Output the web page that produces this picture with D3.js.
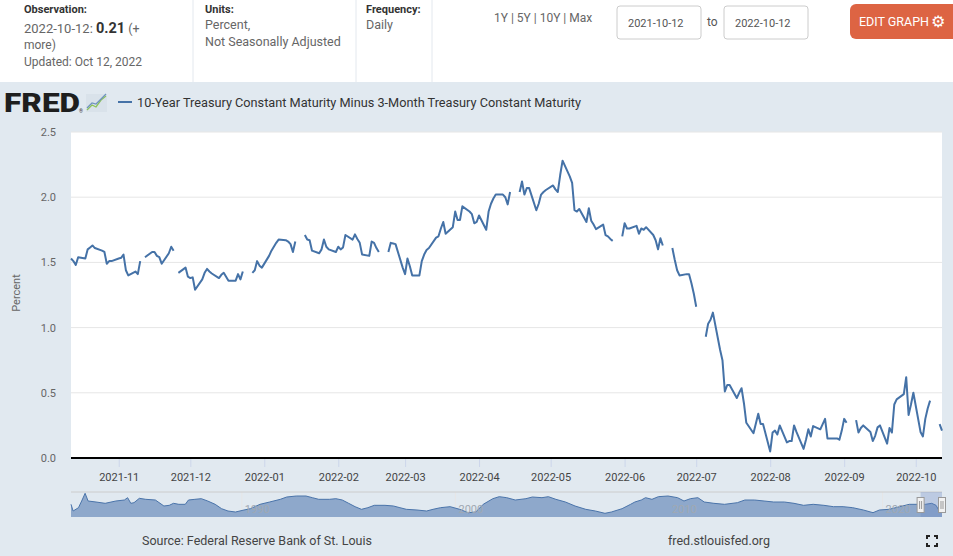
<!DOCTYPE html>
<html>
<head>
<meta charset="utf-8">
<script src="https://cdn.jsdelivr.net/npm/d3@7"></script>
<style>
  body { margin: 0; background: #fff; }
  svg text { font-family: Roboto, "Open Sans", "DejaVu Sans", sans-serif; }
</style>
</head>
<body>
<div id="chart"></div>
<script>
// T10Y3M, daily values per month (null = market holiday)
const oct21 = [1.53, 1.51, 1.48, 1.54, 1.53, 1.60, 1.615, 1.63, 1.61, 1.59, 1.58, 1.49, 1.51, 1.51];
const nov21 = [1.53, 1.535, 1.56, 1.44, 1.40, 1.43, 1.41, 1.51, null, 1.54, 1.58, 1.58, 1.55, 1.54, 1.49, 1.57, 1.62, 1.59, null, 1.42, 1.46, 1.39];
const dec21 = [1.38, 1.385, 1.29, 1.37, 1.42, 1.45, 1.43, 1.415, 1.38, 1.405, 1.42, 1.39, 1.36, 1.36, 1.41, 1.37, 1.43, null, 1.42, 1.44, 1.51, 1.475, 1.46];
const jan22 = [1.55, 1.59, 1.62, 1.65, 1.675, 1.67, 1.66, 1.64, 1.58, 1.66, null, 1.71, 1.675, 1.67, 1.59, 1.57, 1.60, 1.675, 1.62, 1.60, 1.58];
const feb22 = [1.62, 1.60, 1.615, 1.71, 1.675, 1.715, 1.68, 1.65, 1.56, 1.55, 1.66, 1.65, 1.61, 1.58, null, 1.58, 1.65, 1.645, 1.64, 1.46];
const mar22 = [1.41, 1.53, 1.47, 1.40, 1.40, 1.51, 1.56, 1.595, 1.61, 1.69, 1.70, 1.76, 1.81, 1.72, 1.77, 1.89, 1.825, 1.825, 1.93, 1.89, 1.87, 1.80, 1.81];
const apr22 = [1.86, 1.75, 1.89, 1.95, 1.99, 2.02, 2.02, 2.00, 1.945, 2.04, null, 2.04, 2.12, 2.02, 2.07, 2.07, 1.90, 1.95, 2.02, 2.04, 2.055];
const may22 = [2.09, 2.06, 2.04, 2.17, 2.28, 2.16, 2.11, 1.90, 1.89, 1.91, 1.81, 1.915, 1.82, 1.79, 1.755, 1.79, 1.71, 1.70, 1.68, 1.665, null, 1.70];
const jun22 = [1.80, 1.76, 1.76, 1.78, 1.72, 1.76, 1.75, 1.77, 1.71, 1.67, 1.60, 1.685, 1.63, null, 1.61, 1.52, 1.44, 1.40, 1.41, 1.41, 1.34, 1.26];
const jul22 = [1.16, null, 0.93, 1.03, 1.06, 1.115, 0.83, 0.75, 0.51, 0.56, 0.56, 0.46, 0.50, 0.535, 0.42, 0.27, 0.19, 0.265, 0.34, 0.26, 0.26];
const aug22 = [0.05, 0.195, 0.21, 0.18, 0.25, 0.12, 0.13, 0.13, 0.25, 0.20, 0.07, 0.14, 0.22, 0.165, 0.245, 0.22, 0.26, 0.30, 0.15, 0.15, 0.15, 0.14, 0.21];
const sep22 = [0.30, 0.27, null, 0.29, 0.195, 0.23, 0.25, 0.20, 0.13, 0.17, 0.235, 0.25, 0.11, 0.23, 0.195, 0.41, 0.45, 0.49, 0.62, 0.33, 0.41, 0.50];
const oct22 = [0.20, 0.165, 0.30, 0.38, 0.44, null, 0.26, 0.21];

// first business day each array starts on
const monthStarts = ["2021-10-12", "2021-11-01", "2021-12-01", "2022-01-03", "2022-02-01", "2022-03-01",
  "2022-04-01", "2022-05-02", "2022-06-01", "2022-07-01", "2022-08-01", "2022-09-01", "2022-10-03"];
const monthValues = [oct21, nov21, dec21, jan22, feb22, mar22, apr22, may22, jun22, jul22, aug22, sep22, oct22];

const yTicks = [0, 0.5, 1.0, 1.5, 2.0, 2.5];

// navigator: whole history, sampled
const navYears = [1982.0, 1982.1, 1982.35, 1982.5, 1982.66, 1982.8, 1983.17, 1983.6, 1984.1, 1984.5, 1984.65, 1984.8, 1984.95,
  1985.2, 1985.5, 1985.95, 1986.35, 1986.6, 1986.8, 1987.05, 1987.35, 1987.5, 1987.8, 1988.1, 1988.4, 1988.75, 1989.05,
  1989.35, 1989.7, 1990.1, 1990.4, 1990.85, 1991.3, 1991.8, 1992.1, 1992.55, 1993.0, 1993.3, 1993.6, 1994.1, 1994.4, 1994.7,
  1995.0, 1995.3, 1995.6, 1995.9, 1996.2, 1996.7, 1997.1, 1997.4, 1997.7, 1998.2, 1998.65, 1998.95, 1999.3, 1999.75, 2000.2,
  2000.6, 2000.95, 2001.3, 2001.75, 2002.05, 2002.4, 2002.8, 2003.3, 2003.6, 2004.05, 2004.35, 2004.7, 2005.15, 2005.6,
  2006.1, 2006.55, 2007.0, 2007.3, 2007.8, 2008.2, 2008.4, 2008.7, 2008.9, 2009.2, 2009.5, 2009.95, 2010.4, 2010.7, 2011.0,
  2011.35, 2011.65, 2012.1, 2012.6, 2013.2, 2013.55, 2014.0, 2014.45, 2014.9, 2015.4, 2015.85, 2016.3, 2016.75, 2017.25,
  2017.7, 2018.15, 2018.6, 2019.1, 2019.55, 2019.85, 2020.3, 2020.8, 2021.25, 2021.7, 2022.0, 2022.3, 2022.5, 2022.65, 2022.78];
const navValues = [1.79, 0.32, 1.05, 2.52, 4.21, 2.52, 2.30, 2.01, 2.52, 2.74, 3.25, 2.01, 2.15,
  3.11, 2.89, 2.74, 1.42, 1.57, 2.01, 1.79, 1.79, 2.74, 2.89, 3.03, 2.52, 1.79, 0.83,
  0.32, 0.10, 0.54, 0.83, 1.79, 2.30, 2.89, 3.40, 3.62, 3.62, 3.25, 2.89, 2.89, 3.03, 2.74,
  2.01, 1.27, 0.69, 1.05, 1.57, 1.57, 1.42, 1.05, 0.69, 0.54, 0.32, 0.69, 1.05, 1.27, 0.69,
  -0.05, 0.10, 1.79, 3.03, 3.47, 3.25, 2.74, 3.03, 3.40, 3.25, 3.47, 2.89, 2.30, 1.42,
  0.69, 0.32, -0.19, 0.10, 0.83, 1.79, 2.30, 2.74, 3.25, 2.89, 3.47, 3.62, 3.25, 2.52, 3.03,
  3.25, 2.30, 2.01, 1.79, 2.15, 2.74, 2.74, 2.52, 2.30, 2.30, 2.01, 1.57, 1.79, 1.57,
  1.27, 1.27, 1.05, 0.54, -0.05, 0.54, 0.69, 1.27, 1.79, 1.79, 1.79, 2.01, 1.57, 0.32, 0.21];
const navDecades = [1990, 2000, 2010, 2020];

// ---- build daily series (weekdays only)
const parse = d3.utcParse("%Y-%m-%d");
const series = [];
monthStarts.forEach((s, i) => {
  let day = parse(s);
  monthValues[i].forEach(v => {
    while (day.getUTCDay() === 0 || day.getUTCDay() === 6) day = d3.utcDay.offset(day, 1);
    series.push({ date: day, v: v });
    day = d3.utcDay.offset(day, 1);
  });
});

const W = 953, H = 556;
const svg = d3.select("#chart").append("svg").attr("width", W).attr("height", H);

// backgrounds
svg.append("rect").attr("width", W).attr("height", H).attr("fill", "#e1e9f0");
svg.append("rect").attr("width", W).attr("height", 82).attr("fill", "#fff");

// ---- header
const hdr = svg.append("g");
[193, 356, 432].forEach(x => hdr.append("line").attr("x1", x).attr("x2", x).attr("y1", 0).attr("y2", 82)
  .attr("stroke", "#e3e8ee"));
function txt(x, y, s, size, color, weight) {
  return hdr.append("text").attr("x", x).attr("y", y).attr("font-size", size)
    .attr("fill", color).attr("font-weight", weight || "normal").text(s);
}
txt(24, 13, "Observation:", 11, "#333", "bold");
const obs = txt(24, 33, "2022-10-12: ", 13, "#666");
obs.append("tspan").attr("font-weight", "bold").attr("font-size", 14.5).attr("fill", "#333").text("0.21");
obs.append("tspan").attr("font-size", 12.5).text(" (+");
txt(24, 49, "more)", 12, "#666");
txt(24, 66, "Updated: Oct 12, 2022", 12, "#666");
txt(205, 13, "Units:", 11, "#333", "bold");
txt(205, 29, "Percent,", 12.5, "#666");
txt(205, 46, "Not Seasonally Adjusted", 12.5, "#666");
txt(366, 13, "Frequency:", 11, "#333", "bold");
txt(366, 29, "Daily", 12.5, "#666");
txt(494, 22, "1Y | 5Y | 10Y | Max", 12, "#666");
[617, 724].forEach((x, i) => {
  hdr.append("rect").attr("x", x).attr("y", 6).attr("width", 84).attr("height", 33).attr("rx", 3)
    .attr("fill", "#fff").attr("stroke", "#ccc");
  txt(x + 11, 27, i ? "2022-10-12" : "2021-10-12", 11, "#555");
});
txt(707, 26, "to", 12, "#555");
hdr.append("rect").attr("x", 850).attr("y", 4).attr("width", 110).attr("height", 35).attr("rx", 6)
  .attr("fill", "#dd6443");
txt(859, 26, "EDIT GRAPH", 12.5, "#fff");
txt(931, 27, "\u2699", 16, "#fff", "bold");

// ---- legend / logo
const leg = svg.append("g");
leg.append("text").attr("x", 4).attr("y", 112).attr("font-size", 25).attr("font-weight", 900)
  .attr("fill", "#1e1e1e").attr("textLength", 76).attr("lengthAdjust", "spacingAndGlyphs").text("FRED");
leg.append("text").attr("x", 79).attr("y", 113).attr("font-size", 5).attr("fill", "#333").text("\u00ae");
leg.append("rect").attr("x", 86).attr("y", 94).attr("width", 21).attr("height", 18).attr("fill", "#d9e2ea");
leg.append("polyline").attr("points", "87,110 92,105 96,107 101,100 106,96").attr("fill", "none")
  .attr("stroke", "#8cc35a").attr("stroke-width", 1.3);
leg.append("polyline").attr("points", "87,108 92,103 96,104 101,99 106,94").attr("fill", "none")
  .attr("stroke", "#6f93c0").attr("stroke-width", 1.2);
leg.append("line").attr("x1", 118).attr("x2", 132).attr("y1", 102).attr("y2", 102)
  .attr("stroke", "#4572a7").attr("stroke-width", 2);
leg.append("text").attr("x", 137).attr("y", 107).attr("font-size", 12).attr("fill", "#333")
  .attr("textLength", 444).attr("lengthAdjust", "spacingAndGlyphs")
  .text("10-Year Treasury Constant Maturity Minus 3-Month Treasury Constant Maturity");

// ---- main plot
const plot = { left: 71, right: 942, top: 132, bottom: 458 };
const x = d3.scaleUtc().domain([parse("2021-10-12"), parse("2022-10-12")]).range([plot.left, plot.right]);
const y = d3.scaleLinear().domain([0, 2.5]).range([plot.bottom, plot.top]);

svg.append("rect").attr("x", plot.left).attr("y", plot.top)
  .attr("width", plot.right - plot.left).attr("height", plot.bottom - plot.top).attr("fill", "#fff");

// gridlines
svg.append("g").selectAll("line").data(yTicks.filter(t => t > 0)).join("line")
  .attr("x1", plot.left).attr("x2", plot.right)
  .attr("y1", d => y(d)).attr("y2", d => y(d)).attr("stroke", "#e6e6e6");

// y axis
const yAxis = svg.append("g").attr("transform", `translate(${plot.left},0)`)
  .call(d3.axisLeft(y).tickValues(yTicks).tickFormat(d3.format(".1f")).tickSize(0).tickPadding(15));
yAxis.select(".domain").remove();
yAxis.selectAll("text").attr("font-size", 11).attr("fill", "#666")
  .attr("font-family", "Roboto, 'Open Sans', sans-serif");
svg.append("text").attr("transform", `translate(20,${(plot.top + plot.bottom) / 2 - 2}) rotate(-90)`)
  .attr("text-anchor", "middle").attr("font-size", 11).attr("fill", "#666").text("Percent");

// x axis
const months = d3.utcMonth.range(parse("2021-11-01"), parse("2022-10-02"));
const xAxis = svg.append("g").attr("transform", `translate(0,${plot.bottom + 1})`)
  .call(d3.axisBottom(x).tickValues(months).tickFormat(d3.utcFormat("%Y-%m")).tickSize(8).tickPadding(6));
xAxis.select(".domain").remove();
xAxis.selectAll(".tick line").attr("stroke", "#ccd6eb");
xAxis.selectAll("text").attr("font-size", 11).attr("fill", "#444")
  .attr("font-family", "Roboto, 'Open Sans', sans-serif");
svg.append("line").attr("x1", plot.left).attr("x2", plot.right)
  .attr("y1", plot.bottom).attr("y2", plot.bottom).attr("stroke", "#000").attr("stroke-width", 2);

// series
const line = d3.line().defined(d => d.v !== null).x(d => x(d.date)).y(d => y(d.v));
svg.append("path").datum(series).attr("d", line).attr("fill", "none")
  .attr("stroke", "#4572a7").attr("stroke-width", 2).attr("stroke-linejoin", "round");

// ---- navigator
const nav = { left: 71, right: 942, top: 492, bottom: 517 };
const nx = d3.scaleLinear().domain([1982.0, 2022.78]).range([nav.left, nav.right]);
const ny = d3.scaleLinear().domain([-1, 4.5]).range([nav.bottom, nav.top]);
const navData = navYears.map((t, i) => ({ t: t, v: navValues[i] }));

svg.append("g").selectAll("line").data(navDecades).join("line")
  .attr("x1", d => nx(d)).attr("x2", d => nx(d)).attr("y1", nav.top).attr("y2", nav.bottom)
  .attr("stroke", "#e6e6e6");
svg.append("line").attr("x1", nav.left).attr("x2", nav.right).attr("y1", nav.top).attr("y2", nav.top)
  .attr("stroke", "#cccccc");
svg.append("path").datum(navData)
  .attr("d", d3.area().x(d => nx(d.t)).y0(nav.bottom).y1(d => ny(d.v)))
  .attr("fill", "#8ea8cb");
svg.append("path").datum(navData)
  .attr("d", d3.line().x(d => nx(d.t)).y(d => ny(d.v)))
  .attr("fill", "none").attr("stroke", "#4a74aa").attr("stroke-width", 1);
svg.append("g").selectAll("text").data(navDecades).join("text")
  .attr("x", d => nx(d) + 3).attr("y", 513).attr("font-size", 11).attr("fill", "#a0a8b2")
  .text(d => d);

// selected range
const selStart = nx(2021 + 284 / 365);
svg.append("rect").attr("x", selStart).attr("y", nav.top).attr("width", nav.right - selStart)
  .attr("height", nav.bottom - nav.top).attr("fill", "rgba(102,133,194,0.3)");
[selStart, nav.right].forEach(hx => {
  const g = svg.append("g").attr("transform", `translate(${hx},505)`);
  g.append("rect").attr("x", -3.5).attr("y", -7.5).attr("width", 7).attr("height", 15)
    .attr("fill", "#f2f2f2").attr("stroke", "#999");
  g.append("line").attr("x1", -1).attr("x2", -1).attr("y1", -4).attr("y2", 4).attr("stroke", "#999");
  g.append("line").attr("x1", 1).attr("x2", 1).attr("y1", -4).attr("y2", 4).attr("stroke", "#999");
});

// ---- footer
svg.append("text").attr("x", 142).attr("y", 545).attr("font-size", 12.5).attr("fill", "#444")
  .text("Source: Federal Reserve Bank of St. Louis");
svg.append("text").attr("x", 668).attr("y", 545).attr("font-size", 12.5).attr("fill", "#444")
  .text("fred.stlouisfed.org");
const fs = svg.append("g").attr("fill", "none").attr("stroke", "#222").attr("stroke-width", 2);
[["927,539 927,536 930,536"], ["934,536 937,536 937,539"], ["927,543 927,546 930,546"], ["934,546 937,546 937,543"]]
  .forEach(p => fs.append("polyline").attr("points", p[0]));
</script>
</body>
</html>
